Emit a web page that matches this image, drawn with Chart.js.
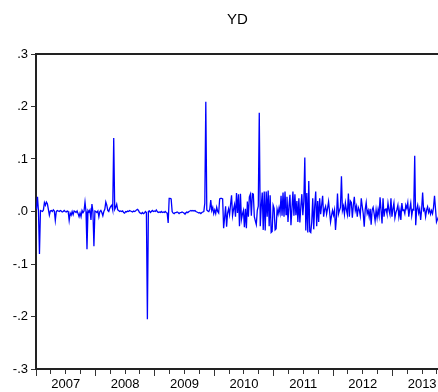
<!DOCTYPE html>
<html><head><meta charset="utf-8">
<script src="https://cdn.jsdelivr.net/npm/chart.js@4/dist/chart.umd.min.js"></script>
<style>html,body{margin:0;padding:0;background:#fff;overflow:hidden}#wrap{width:438px;height:392px;overflow:hidden}canvas{display:block}</style>
</head><body><div id="wrap"><canvas id="c" width="440" height="392"></canvas></div>
<script>
const chartTitle = 'YD';
const years = [2007, 2008, 2009, 2010, 2011, 2012, 2013];
const obsPerYear = 60;
const y2007 = [0.004,0.028,0.0,-0.081,0.002,0.001,0.0,0.003,0.017,0.012,0.018,0.015,0.004,-0.007,0.001,0.002,0.0,0.003,0.001,-0.017,0.0,0.002,0.001,0.0,0.002,0.001,-0.001,0.0,0.002,0.0,-0.001,0.001,0.0,-0.017,-0.003,-0.007,0.0,-0.006,0.001,0.0,-0.002,0.001,-0.004,-0.01,-0.003,-0.01,0.002,-0.002,0.001,0.018,0.0,-0.072,0.002,-0.001,0.003,-0.016,0.014,0.0,-0.066,0.001];
const y2008 = [0.0,-0.002,0.001,-0.01,0.0,0.002,-0.002,-0.008,0.0,0.004,0.018,0.012,0.002,0.0,0.006,0.01,0.012,0.003,0.14,0.004,0.008,0.014,0.003,0.002,0.0,0.001,0.0,0.001,-0.002,-0.003,0.0,-0.001,0.001,0.0,0.002,0.001,0.0,-0.001,0.001,0.0,0.001,0.003,0.004,0.002,-0.002,-0.003,-0.004,-0.002,-0.004,-0.003,0.0,-0.002,-0.205,0.0,0.001,-0.002,0.0,0.002,0.0,0.001];
const y2009 = [0.0,0.003,0.0,-0.002,-0.001,-0.002,0.0,-0.002,-0.001,-0.002,0.0,-0.002,-0.003,-0.022,0.025,0.025,0.024,0.0,-0.003,-0.004,-0.002,-0.002,-0.001,-0.002,-0.004,-0.002,-0.002,-0.001,-0.002,-0.003,-0.005,-0.002,-0.001,-0.002,0.0,0.001,0.002,0.001,0.002,0.001,0.002,0.0,-0.001,-0.002,-0.003,-0.002,-0.004,-0.002,-0.001,0.0,0.016,0.209,0.003,0.001,0.0,0.004,0.022,0.002,0.008,-0.004];
const y2010 = [0.003,-0.004,0.008,0.0,-0.003,0.024,0.025,0.025,0.024,-0.032,-0.012,0.01,-0.029,-0.003,0.005,-0.006,0.013,0.031,-0.008,0.004,0.013,-0.01,0.035,-0.003,0.033,-0.028,0.034,-0.015,-0.005,0.002,-0.03,0.005,-0.032,0.019,-0.01,0.028,0.033,-0.008,0.034,0.033,-0.01,-0.018,-0.025,0.002,0.01,0.188,-0.028,0.01,0.036,-0.035,0.038,-0.036,0.038,-0.01,0.04,-0.028,0.031,-0.04,-0.038,0.012];
const y2011 = [0.006,-0.035,-0.033,0.004,-0.005,0.007,-0.003,0.03,-0.008,0.036,-0.01,0.038,-0.006,0.028,-0.02,0.01,0.032,-0.026,0.005,0.038,-0.008,0.033,-0.007,0.02,-0.02,0.025,-0.021,0.01,0.033,-0.007,0.02,0.103,-0.036,0.035,-0.04,0.058,-0.038,-0.04,-0.02,0.025,-0.034,0.01,0.038,-0.028,0.02,-0.02,0.025,-0.005,0.012,0.03,-0.01,0.004,0.01,-0.005,0.006,0.019,0.0,-0.02,-0.008,0.002];
const y2012 = [-0.007,0.003,-0.035,-0.01,0.034,-0.005,0.002,0.008,0.067,0.002,0.01,-0.005,0.016,0.003,-0.006,0.034,-0.01,0.02,0.017,-0.012,0.012,0.028,0.002,0.01,-0.01,0.008,0.003,-0.008,0.025,0.01,-0.004,-0.029,0.004,0.017,-0.004,0.002,-0.01,0.005,-0.025,0.003,0.008,-0.004,-0.018,0.003,-0.012,0.004,-0.008,0.027,0.002,-0.023,0.025,-0.01,0.004,0.005,-0.004,0.016,0.002,-0.006,0.025,-0.01];
const y2013 = [0.005,0.016,-0.012,-0.002,0.004,0.012,-0.01,0.003,-0.016,0.016,0.002,0.003,-0.004,0.012,0.006,0.017,-0.01,0.005,0.016,-0.008,0.004,0.003,0.106,-0.026,0.004,0.012,-0.003,0.005,-0.016,0.004,0.036,0.002,0.005,-0.01,0.003,0.009,-0.002,0.004,-0.005,0.002,-0.004,0.008,0.03,0.005,-0.02,-0.015,-0.01];
const yTickValues = [-0.3, -0.2, -0.1, 0, 0.1, 0.2, 0.3];
const xMin = 2007, xMax = 2013.78;

const seriesByYear = [y2007, y2008, y2009, y2010, y2011, y2012, y2013];
const points = [];
seriesByYear.forEach((arr, k) => arr.forEach((v, i) => points.push({x: years[k] + (i + 0.5) / obsPerYear, y: v})));

const quarterTicks = [];
years.forEach(yr => { for (let q = 0; q < 4; q++) { const v = yr + q / 4; if (v <= xMax) quarterTicks.push(v); } });
const yearTicks = years.filter(v => v <= xMax);

const FONT = 'Liberation Sans, Arial, Helvetica, sans-serif';
const fmtY = v => { if (Math.abs(v) < 1e-9) return '.0'; return (v < 0 ? '-' : '') + Math.abs(v).toFixed(1).replace(/^0/, ''); };
const fmtX = v => { const f = v - Math.floor(v); return Math.abs(f - 0.5) < 1e-6 ? String(Math.floor(v)) : ''; };

new Chart(document.getElementById('c'), {
  type: 'line',
  data: { datasets: [{ data: points, borderColor: '#0000ff', borderWidth: 1.3, pointRadius: 0, tension: 0, fill: false, xAxisID: 'x', yAxisID: 'y' }] },
  options: {
    responsive: false, animation: false, devicePixelRatio: 1,
    layout: { padding: { left: 0, right: 1, top: 0, bottom: 0 }, autoPadding: false },
    plugins: {
      legend: { display: false }, tooltip: { enabled: false },
      title: { display: true, text: chartTitle, fullSize: false, color: '#000', font: { family: FONT, size: 15, weight: 'normal' }, padding: { top: 11, bottom: 25 } }
    },
    scales: {
      x: {
        type: 'linear', position: 'bottom', min: xMin, max: xMax, weight: 1,
        afterBuildTicks: s => { s.ticks = quarterTicks.map(v => ({ value: v })); },
        afterFit: s => { s.height = 23; },
        ticks: { autoSkip: false, maxRotation: 0, minRotation: 0, padding: 3, color: '#000', font: { family: FONT, size: 13 }, callback: v => fmtX(v) },
        grid: { drawOnChartArea: false, drawTicks: true, tickLength: 5, tickColor: '#333', tickWidth: 1 },
        border: { display: true, color: '#222', width: 2 }
      },
      xMajor: {
        type: 'linear', position: 'bottom', min: xMin, max: xMax, weight: 0,
        afterBuildTicks: s => { s.ticks = yearTicks.map(v => ({ value: v })); },
        afterFit: s => { s.height = 0; },
        ticks: { display: false },
        grid: { drawOnChartArea: false, drawTicks: true, tickLength: 7, tickColor: '#333', tickWidth: 1 },
        border: { display: false }
      },
      xTop: {
        type: 'linear', position: 'top', min: xMin, max: xMax, display: true,
        afterFit: s => { s.height = 0; },
        ticks: { display: false },
        grid: { drawOnChartArea: false, drawTicks: false, tickLength: 0 },
        border: { display: true, color: '#222', width: 2 }
      },
      y: {
        type: 'linear', position: 'left', min: -0.3, max: 0.3,
        afterBuildTicks: s => { s.ticks = yTickValues.map(v => ({ value: v })); },
        afterFit: s => { s.width = 36; },
        ticks: { padding: 3, color: '#000', font: { family: FONT, size: 13 }, callback: v => fmtY(v) },
        grid: { drawOnChartArea: false, drawTicks: true, tickLength: 5, tickColor: '#333', tickWidth: 1 },
        border: { display: true, color: '#222', width: 2 }
      }
    }
  }
});
</script></body></html>
